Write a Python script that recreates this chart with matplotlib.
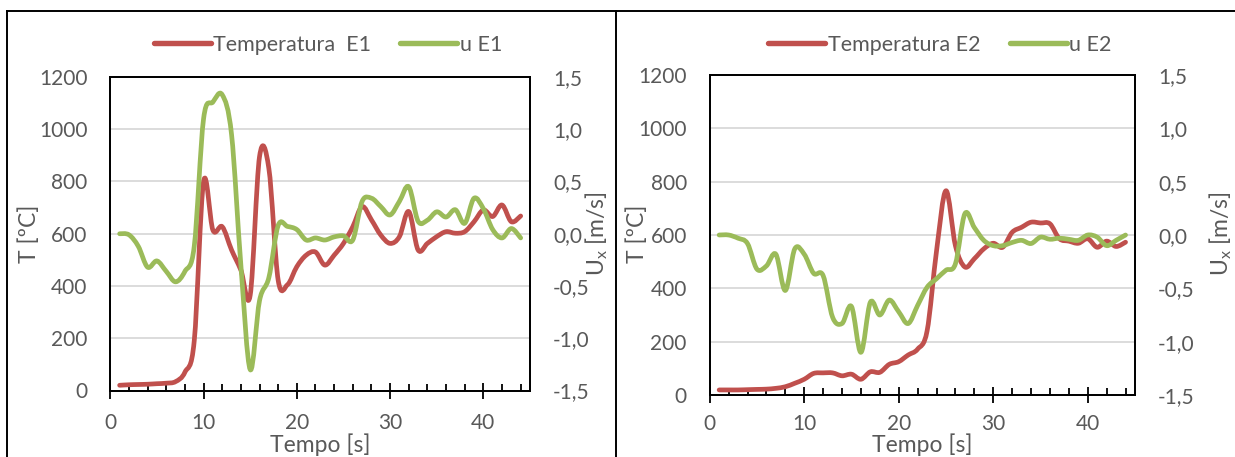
import matplotlib
matplotlib.use("Agg")
import matplotlib.pyplot as plt
from matplotlib.path import Path
from matplotlib.patches import PathPatch
from matplotlib.lines import Line2D
import numpy as np

plt.rcParams['font.family'] = ['Lato', 'DejaVu Sans']

# ---- data -------------------------------------------------------------
tempo = [1, 2, 3, 4, 5, 6, 7, 8, 9, 10, 11, 12, 13, 14, 15, 16, 17, 18, 19, 20, 21, 22,
         23, 24, 25, 26, 27, 28, 29, 30, 31, 32, 33, 34, 35, 36, 37, 38, 39, 40, 41, 42, 43, 44]

temp_e1 = [20, 22, 23, 24, 26, 28, 34, 70, 190, 800, 614, 627, 538, 461, 365, 895, 850, 422,
           405, 474, 518, 530, 480, 518, 563, 627, 704, 653, 595, 563, 589, 685, 538, 563, 589,
           608, 602, 608, 646, 691, 666, 710, 646, 668]
u_e1 = [0.0, -0.01, -0.12, -0.32, -0.26, -0.36, -0.46, -0.36, -0.12, 1.10, 1.26, 1.33, 0.95,
        -0.30, -1.30, -0.64, -0.42, 0.08, 0.07, 0.04, -0.06, -0.04, -0.06, -0.03, -0.02, -0.06,
        0.31, 0.34, 0.26, 0.18, 0.31, 0.45, 0.12, 0.13, 0.21, 0.16, 0.23, 0.10, 0.34, 0.24, 0.04,
        -0.04, 0.05, -0.04]

temp_e2 = [19, 19, 19, 20, 21, 22, 25, 31, 44, 59, 81, 83, 83, 72, 78, 59, 87, 85, 115, 125,
           150, 172, 240, 540, 766, 560, 480, 511, 548, 569, 554, 610, 629, 648, 645, 642, 586,
           577, 569, 586, 554, 577, 557, 573]
u_e2 = [0.0, 0.0, -0.03, -0.08, -0.32, -0.29, -0.18, -0.52, -0.13, -0.18, -0.36, -0.38, -0.77,
        -0.83, -0.67, -1.10, -0.63, -0.75, -0.61, -0.72, -0.83, -0.66, -0.49, -0.41, -0.33, -0.27,
        0.20, 0.07, -0.05, -0.10, -0.10, -0.07, -0.05, -0.08, -0.02, -0.04, -0.03, -0.04, -0.05,
        0.0, -0.02, -0.10, -0.05, 0.0]

x_ticks = [0, 10, 20, 30, 40]
x_minor = [2, 4, 6, 8, 12, 14, 16, 18, 22, 24, 26, 28, 32, 34, 36, 38, 42, 44]
t_ticks = [0, 200, 400, 600, 800, 1000, 1200]
u_ticks = [-1.5, -1.0, -0.5, 0.0, 0.5, 1.0, 1.5]

labels_e1 = ["Temperatura  E1", "u E1"]
labels_e2 = ["Temperatura E2", "u E2"]

# ---- style -------------------------------------------------------------
RED = "#C0504D"
GREEN = "#9BBB59"
TXT = "#595959"
GRID = "#d9d9d9"
FS = 15        # tick labels
FS_LEG = 15.5  # legend
FS_AX = 16.5   # axis titles
LW = 3.4

W, H = 1235, 457
fig = plt.figure(figsize=(W / 100, H / 100), dpi=100)


def smooth_path(x, y):
    """Cubic Bezier path through the points (Catmull-Rom style smoothing)."""
    x = np.asarray(x, float)
    y = np.asarray(y, float)
    n = len(x)
    verts = [(x[0], y[0])]
    codes = [Path.MOVETO]
    for i in range(n - 1):
        i0 = max(i - 1, 0)
        i3 = min(i + 2, n - 1)
        c1 = (x[i] + (x[i + 1] - x[i0]) / 6, y[i] + (y[i + 1] - y[i0]) / 6)
        c2 = (x[i + 1] - (x[i3] - x[i]) / 6, y[i + 1] - (y[i3] - y[i]) / 6)
        verts += [c1, c2, (x[i + 1], y[i + 1])]
        codes += [Path.CURVE4] * 3
    return Path(verts, codes)


def px_rect(x0, y0, x1, y1):
    return [x0 / W, 1 - y1 / H, (x1 - x0) / W, (y1 - y0) / H]


def panel(rect, temp, vel, labels, legend_cx, ylab_x, ulab_x, xlab_cx, xlab_y, xpad):
    ax = fig.add_axes(px_rect(*rect))
    ax2 = ax.twinx()
    ax.set_xlim(0, 45)
    ax.set_ylim(0, 1200)
    ax2.set_ylim(-1.5, 1.5)

    ax.set_xticks(x_ticks)
    ax.set_xticks(x_minor, minor=True)
    ax.set_yticks(t_ticks)
    ax2.set_yticks(u_ticks)
    ax2.set_yticklabels([f"{v:.1f}".replace(".", ",") for v in u_ticks])

    ax.grid(axis="y", color=GRID, lw=1.3)
    ax.set_axisbelow(True)

    for a in (ax, ax2):
        for s in a.spines.values():
            s.set_color("black")
            s.set_linewidth(1.3)

    ax.tick_params(axis="x", which="major", direction="inout", length=12, width=1.3,
                   labelsize=FS, labelcolor=TXT, pad=xpad)
    ax.tick_params(axis="x", which="minor", direction="in", length=5, width=1.3)
    ax.tick_params(axis="y", length=0, labelsize=FS, labelcolor=TXT, pad=16.5)
    ax2.tick_params(axis="y", length=0, labelsize=FS, labelcolor=TXT, pad=16.5)

    ax.add_patch(PathPatch(smooth_path(tempo, temp), fill=False, edgecolor=RED, lw=LW,
                           capstyle="round", joinstyle="round"))
    ax2.add_patch(PathPatch(smooth_path(tempo, vel), fill=False, edgecolor=GREEN, lw=LW,
                            capstyle="round", joinstyle="round"))

    handles = [Line2D([], [], color=RED, lw=LW + 0.5, solid_capstyle="round"),
               Line2D([], [], color=GREEN, lw=LW + 0.5, solid_capstyle="round")]
    fig.legend(handles, labels, loc="center", bbox_to_anchor=(legend_cx / W, 1 - 45 / H),
               ncol=2, frameon=False, fontsize=FS_LEG, labelcolor=TXT, handlelength=2.65,
               handletextpad=0.12, columnspacing=1.35, borderpad=0, borderaxespad=0)

    ymid = 1 - 234 / H
    fig.text(ylab_x / W, ymid, "T [ºC]", rotation=90, ha="center", va="center",
             fontsize=FS_AX, color=TXT)
    fig.text(ulab_x / W, ymid, r"U$_\mathregular{x}$ [m/s]", rotation=90, ha="center",
             va="center", fontsize=FS_AX, color=TXT)
    fig.text(xlab_cx / W, 1 - xlab_y / H, "Tempo [s]", ha="center", va="center",
             fontsize=FS_AX, color=TXT)
    return ax, ax2


panel((110.3, 77, 530, 390.5), temp_e1, u_e1, labels_e1, 328, 29, 597, 320, 445, 10.5)
panel((709.7, 75, 1135, 395), temp_e2, u_e2, labels_e2, 940, 637, 1221, 922, 445, 7.5)

# chart-area borders
border = dict(transform=fig.transFigure, color="black", lw=1.4)
fig.add_artist(Line2D([7 / W, 7 / W], [0, 1 - 11 / H], **border))
fig.add_artist(Line2D([7 / W, 1], [1 - 11 / H, 1 - 11 / H], **border))
fig.add_artist(Line2D([615.5 / W, 615.5 / W], [0, 1 - 11 / H], **border))

fig.savefig("out.png", dpi=100)
